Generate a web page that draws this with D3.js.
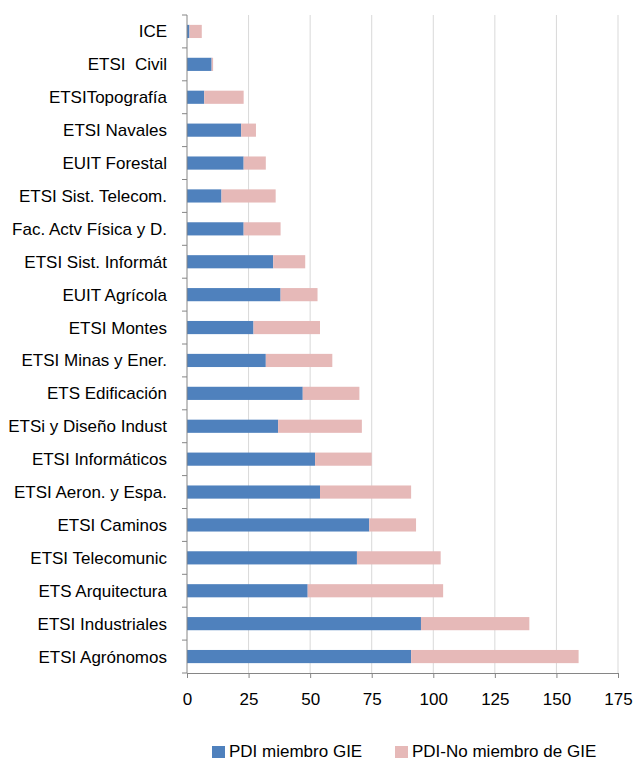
<!DOCTYPE html>
<html>
<head>
<meta charset="utf-8">
<script src="https://cdn.jsdelivr.net/npm/d3@7"></script>
<style>
  body { margin: 0; background: #fff; }
  svg text { font-family: "Liberation Sans", Arial, sans-serif; fill: #000; white-space: pre; }
</style>
</head>
<body>
<div id="chart"></div>
<script>
const categories = [
  "ICE", "ETSI  Civil", "ETSITopografía", "ETSI Navales", "EUIT Forestal",
  "ETSI Sist. Telecom.", "Fac. Actv Física y D.", "ETSI Sist. Informát", "EUIT Agrícola", "ETSI Montes",
  "ETSI Minas y Ener.", "ETS Edificación", "ETSi y Diseño Indust", "ETSI Informáticos", "ETSI Aeron. y Espa.",
  "ETSI Caminos", "ETSI Telecomunic", "ETS Arquitectura", "ETSI Industriales", "ETSI Agrónomos"
];
const miembro = [1, 10, 7, 22, 23, 14, 23, 35, 38, 27, 32, 47, 37, 52, 54, 74, 69, 49, 95, 91];
const noMiembro = [5, 0.6, 16, 6, 9, 22, 15, 13, 15, 27, 27, 23, 34, 23, 37, 19, 34, 55, 44, 68];
const seriesNames = ["PDI miembro GIE", "PDI-No miembro de GIE"];
const seriesColors = ["#4F81BD", "#E6B9B8"];
const xTicks = [0, 25, 50, 75, 100, 125, 150, 175];

const width = 633, height = 761;
const margin = { left: 187, right: 15, top: 15, bottom: 88 };
const fontSize = "17px";

const svg = d3.select("#chart").append("svg")
  .attr("width", width)
  .attr("height", height);

const table = categories.map((c, i) => ({ cat: c, a: miembro[i], b: noMiembro[i] }));
const stacked = d3.stack().keys(["a", "b"])(table);

const x = d3.scaleLinear().domain([0, 175]).range([margin.left, 618]);
const y = d3.scaleBand().domain(categories).range([margin.top, 673]).paddingInner(0.6).paddingOuter(0.3);

// gridlines
svg.append("g")
  .selectAll("line")
  .data(xTicks.filter(d => d > 0))
  .enter().append("line")
  .attr("x1", d => x(d)).attr("x2", d => x(d))
  .attr("y1", margin.top).attr("y2", 673)
  .attr("stroke", "#d9d9d9").attr("stroke-width", 1);

// bars
svg.append("g")
  .selectAll("g")
  .data(stacked)
  .enter().append("g")
  .attr("fill", (d, i) => seriesColors[i])
  .selectAll("rect")
  .data(d => d)
  .enter().append("rect")
  .attr("x", d => x(d[0]))
  .attr("y", d => y(d.data.cat))
  .attr("width", d => x(d[1]) - x(d[0]))
  .attr("height", y.bandwidth());

// y axis
svg.append("line")
  .attr("x1", x(0)).attr("x2", x(0))
  .attr("y1", margin.top).attr("y2", 673)
  .attr("stroke", "#868686");
svg.append("g")
  .selectAll("line")
  .data(d3.range(categories.length + 1))
  .enter().append("line")
  .attr("x1", x(0) - 5).attr("x2", x(0))
  .attr("y1", i => margin.top + i * (673 - margin.top) / categories.length)
  .attr("y2", i => margin.top + i * (673 - margin.top) / categories.length)
  .attr("stroke", "#868686");
svg.append("g")
  .selectAll("text")
  .data(categories)
  .enter().append("text")
  .attr("x", 167)
  .attr("y", d => y(d) + y.bandwidth() / 2)
  .attr("dy", "0.35em")
  .attr("text-anchor", "end")
  .style("font-size", fontSize)
  .text(d => d);

// x axis
const xAxis = svg.append("g")
  .attr("transform", "translate(0,673)")
  .call(d3.axisBottom(x).tickValues(xTicks).tickSize(5).tickPadding(15));
xAxis.select(".domain").attr("stroke", "#868686");
xAxis.selectAll(".tick line").attr("stroke", "#868686");
xAxis.selectAll("text").style("font-size", fontSize).style("font-family", "Liberation Sans, Arial, sans-serif").attr("fill", "#000");

// legend
const legendX = [212, 395];
const legend = svg.append("g").selectAll("g")
  .data(seriesNames)
  .enter().append("g")
  .attr("transform", (d, i) => `translate(${legendX[i]},746)`);
legend.append("rect")
  .attr("width", 13).attr("height", 12)
  .attr("fill", (d, i) => seriesColors[i]);
legend.append("text")
  .attr("x", 17).attr("y", 5).attr("dy", "0.35em")
  .style("font-size", fontSize)
  .text(d => d);
</script>
</body>
</html>
